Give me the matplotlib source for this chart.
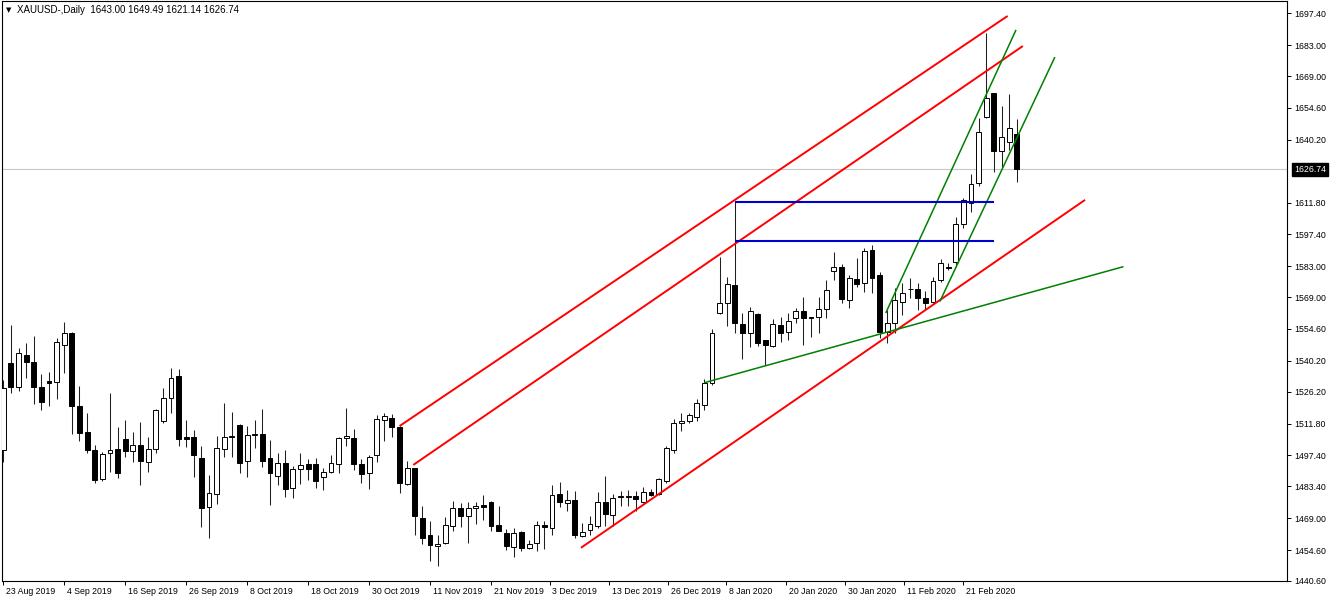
import matplotlib
matplotlib.use('Agg')
import matplotlib.pyplot as plt
import matplotlib.transforms as mtransforms

# ---------------- data ----------------
opens = [1499.9, 1539.1, 1528.5, 1542.8, 1539.8, 1528.5, 1531.0, 1530.5, 1547.4, 1552.9,
         1519.8, 1508.2, 1499.9, 1486.7, 1498.4, 1500.2, 1504.9, 1499.6, 1502.2, 1494.3,
         1500.2, 1513.1, 1523.3, 1533.3, 1505.6, 1505.6, 1496.1, 1474.1, 1479.9, 1500.2,
         1505.7, 1511.2, 1494.7, 1506.8, 1507.1, 1496.1, 1488.2, 1493.9, 1482.8, 1491.4,
         1493.4, 1493.4, 1487.7, 1489.8, 1493.4, 1505.2, 1505.2, 1493.4, 1489.4, 1497.4,
         1513.6, 1514.2, 1510.4, 1484.4, 1491.9, 1469.2, 1461.2, 1456.3, 1457.8, 1465.6,
         1473.5, 1470.2, 1473.6, 1475.0, 1476.2, 1465.9, 1462.2, 1456.0, 1462.7, 1455.6,
         1457.8, 1466.1, 1464.6, 1480.0, 1475.9, 1477.4, 1461.0, 1463.7, 1465.6, 1476.4,
         1470.3, 1478.4, 1478.6, 1479.0, 1476.4, 1480.9, 1480.1, 1485.7, 1499.7, 1512.2,
         1512.8, 1515.0, 1520.0, 1530.0, 1562.0, 1566.2, 1574.5, 1556.7, 1552.9, 1561.2,
         1549.6, 1546.9, 1556.4, 1553.4, 1559.7, 1562.7, 1560.2, 1560.0, 1563.7, 1581.0,
         1582.8, 1567.7, 1577.1, 1575.3, 1590.3, 1579.0, 1553.4, 1557.2, 1567.0, 1572.7,
         1572.5, 1568.5, 1567.0, 1576.8, 1582.6, 1584.8, 1602.1, 1611.5, 1620.5, 1650.4,
         1661.2, 1635.2, 1639.3, 1643.00]
highs = [1531.5, 1556.4, 1545.9, 1548.1, 1551.4, 1534.1, 1535.0, 1550.4, 1557.6, 1553.4,
         1528.8, 1516.5, 1502.2, 1499.1, 1525.5, 1510.2, 1513.5, 1508.2, 1512.4, 1505.6,
         1518.4, 1527.8, 1536.8, 1536.4, 1513.5, 1508.9, 1501.7, 1488.6, 1506.2, 1521.0,
         1516.9, 1511.5, 1510.9, 1513.5, 1518.3, 1504.4, 1498.4, 1499.9, 1492.6, 1498.4,
         1495.7, 1496.1, 1491.5, 1497.6, 1505.9, 1519.0, 1509.3, 1495.7, 1497.6, 1515.7,
         1516.8, 1516.2, 1510.7, 1494.9, 1491.9, 1474.4, 1467.9, 1461.6, 1469.5, 1476.9,
         1475.8, 1476.3, 1476.5, 1479.6, 1476.6, 1474.4, 1464.2, 1464.5, 1463.4, 1459.2,
         1467.9, 1467.9, 1483.9, 1485.5, 1481.8, 1481.5, 1466.7, 1470.2, 1480.9, 1488.1,
         1480.0, 1481.5, 1481.8, 1481.1, 1483.0, 1482.1, 1487.2, 1501.7, 1513.8, 1516.5,
         1516.8, 1523.0, 1532.0, 1554.5, 1587.3, 1578.0, 1612.2, 1562.0, 1564.4, 1561.7,
         1549.6, 1559.0, 1559.9, 1562.0, 1564.0, 1569.2, 1560.2, 1569.0, 1576.8, 1589.3,
         1584.0, 1579.0, 1586.6, 1591.1, 1592.6, 1580.5, 1563.2, 1573.0, 1575.3, 1577.5,
         1575.3, 1571.9, 1578.2, 1586.1, 1584.3, 1605.4, 1613.7, 1624.7, 1649.9, 1688.4,
         1661.5, 1655.5, 1660.9, 1649.49]
lows = [1494.6, 1525.8, 1526.6, 1532.6, 1520.6, 1518.0, 1519.9, 1522.8, 1534.6, 1507.1,
        1503.9, 1498.7, 1485.1, 1486.0, 1490.1, 1487.1, 1496.9, 1494.3, 1484.0, 1489.7,
        1498.7, 1512.0, 1516.8, 1501.7, 1501.1, 1487.8, 1465.2, 1460.1, 1475.5, 1496.9,
        1496.9, 1489.4, 1487.8, 1500.6, 1492.1, 1474.9, 1483.9, 1478.5, 1478.0, 1484.7,
        1486.5, 1482.6, 1481.8, 1489.4, 1489.4, 1501.7, 1490.9, 1484.8, 1482.3, 1494.6,
        1504.1, 1505.6, 1480.6, 1483.9, 1461.6, 1457.5, 1449.6, 1447.2, 1457.5, 1463.4,
        1464.9, 1457.8, 1466.2, 1468.0, 1463.1, 1463.1, 1454.7, 1451.4, 1454.2, 1454.9,
        1454.2, 1455.0, 1461.2, 1473.9, 1472.1, 1460.1, 1460.4, 1461.6, 1464.6, 1465.6,
        1465.6, 1474.4, 1474.4, 1472.1, 1475.9, 1479.1, 1479.7, 1484.9, 1498.7, 1508.3,
        1512.0, 1513.0, 1518.0, 1529.3, 1561.4, 1556.0, 1553.0, 1540.9, 1546.3, 1546.9,
        1538.3, 1546.6, 1548.8, 1549.6, 1557.2, 1547.3, 1550.8, 1552.6, 1559.4, 1576.8,
        1566.2, 1564.0, 1573.7, 1571.5, 1570.8, 1550.4, 1548.4, 1552.6, 1560.9, 1568.5,
        1563.2, 1563.2, 1566.2, 1576.0, 1581.3, 1582.8, 1600.1, 1607.7, 1619.3, 1649.9,
        1625.7, 1627.3, 1635.6, 1621.14]
closes = [1527.8, 1528.2, 1543.6, 1539.8, 1528.2, 1521.5, 1530.3, 1548.6, 1552.9, 1519.8,
          1507.7, 1499.9, 1486.3, 1498.1, 1499.9, 1489.4, 1499.6, 1502.2, 1495.1, 1500.2,
          1518.0, 1523.3, 1532.3, 1504.7, 1505.0, 1497.6, 1473.5, 1480.3, 1500.9, 1505.9,
          1506.0, 1494.2, 1506.7, 1507.3, 1494.7, 1489.6, 1493.9, 1482.3, 1491.4, 1492.9,
          1491.4, 1485.9, 1490.0, 1493.9, 1505.2, 1506.0, 1493.6, 1489.2, 1496.6, 1513.8,
          1515.3, 1510.4, 1484.8, 1491.6, 1470.0, 1460.1, 1456.8, 1457.5, 1465.9, 1473.6,
          1470.2, 1473.6, 1474.7, 1474.0, 1465.7, 1463.4, 1456.3, 1462.5, 1455.6, 1457.4,
          1466.1, 1464.9, 1479.4, 1476.3, 1477.4, 1461.2, 1462.8, 1466.3, 1476.4, 1471.1,
          1478.2, 1479.0, 1479.0, 1477.9, 1480.9, 1479.7, 1486.8, 1500.6, 1512.0, 1512.8,
          1515.9, 1521.0, 1530.0, 1552.9, 1566.2, 1574.9, 1557.2, 1552.9, 1562.9, 1548.1,
          1547.3, 1556.9, 1552.9, 1558.2, 1562.7, 1559.7, 1559.7, 1563.6, 1572.3, 1582.8,
          1568.1, 1577.5, 1575.0, 1589.9, 1577.5, 1553.4, 1557.2, 1567.7, 1571.0, 1572.9,
          1568.5, 1566.5, 1576.4, 1584.3, 1582.2, 1602.0, 1612.9, 1620.1, 1643.8, 1659.2,
          1635.2, 1641.3, 1645.4, 1626.74]

date_labels = ['23 Aug 2019', '4 Sep 2019', '16 Sep 2019', '26 Sep 2019', '8 Oct 2019',
               '18 Oct 2019', '30 Oct 2019', '11 Nov 2019', '21 Nov 2019', '3 Dec 2019',
               '13 Dec 2019', '26 Dec 2019', '8 Jan 2020', '20 Jan 2020', '30 Jan 2020',
               '11 Feb 2020', '21 Feb 2020']
date_bar = [0, 8, 16, 24, 32, 40, 48, 56, 64, 71.7, 79.5, 87.2, 94.9, 102.7, 110.5, 118.2, 126.0]

price_ticks = [1697.40, 1683.00, 1669.00, 1654.60, 1640.20, 1611.80, 1597.40, 1583.00,
               1569.00, 1554.60, 1540.20, 1526.20, 1511.80, 1497.40, 1483.40, 1469.00,
               1454.60, 1440.60]
last_price = 1626.74
header = "XAUUSD-,Daily  1643.00 1649.49 1621.14 1626.74"

# trend objects: (bar, price) -> (bar, price)
red_lines = [((52.0, 1510.7), (131.8, 1696.2)),
             ((53.8, 1493.1), (133.8, 1682.6)),
             ((75.8, 1455.6), (141.96, 1613.0))]
green_lines = [((92.0, 1530.3), (147.0, 1582.8)),
               ((115.8, 1561.8), (132.9, 1689.9)),
               ((122.9, 1567.0), (138.0, 1677.6))]
blue_levels = [1612.1, 1594.5]
blue_span = (96.0, 130.0)

# ---------------- figure ----------------
W, H = 1332, 601
fig = plt.figure(figsize=(W / 100, H / 100), dpi=100)
fig.patch.set_facecolor('white')
ax_left, ax_right, ax_top, ax_bottom = 2, 1287.3, 1, 581
ax = fig.add_axes([ax_left / W, (H - ax_bottom) / H,
                   (ax_right - ax_left) / W, (ax_bottom - ax_top) / H])
ax.set_facecolor('white')
ax.set_xlim(-0.17, 168.5)
ax.set_ylim(1440.6, 1702.96)

FONT = ['Liberation Sans', 'DejaVu Sans']
fs = 6.3

# current price line
ax.axhline(last_price, color='#c8c8c8', lw=0.8, zorder=1)

# candles
n = len(opens)
xs = list(range(n))
for i in xs:
    ax.vlines(i, lows[i], highs[i], color='#202020', lw=0.75, zorder=2)
for i in xs:
    o, c = opens[i], closes[i]
    bull = c >= o
    ax.bar(i, abs(c - o), bottom=min(o, c), width=0.64,
           color='white' if bull else 'black', edgecolor='black', lw=0.7, zorder=3)

# trend lines
for (x0, y0), (x1, y1) in red_lines:
    ax.plot([x0, x1], [y0, y1], color='#ff0000', lw=1.4, zorder=4, solid_capstyle='butt')
for (x0, y0), (x1, y1) in green_lines:
    ax.plot([x0, x1], [y0, y1], color='#008000', lw=1.1, zorder=4, solid_capstyle='butt')
for lvl in blue_levels:
    ax.plot(list(blue_span), [lvl, lvl], color='#0000cd', lw=1.5, zorder=4, solid_capstyle='butt')

# axes styling
for s in ax.spines.values():
    s.set_color('black')
    s.set_linewidth(0.8)

ax.yaxis.tick_right()
ax.set_yticks(price_ticks)
ax.set_yticklabels([f"{p:.2f}" for p in price_ticks], fontsize=fs, family=FONT)
ax.tick_params(axis='y', direction='out', length=3, width=0.7, pad=2, colors='black')

ax.set_xticks(date_bar)
ax.set_xticklabels(date_labels, fontsize=fs, family=FONT)
ax.tick_params(axis='x', direction='out', length=3, width=0.7, pad=1, colors='black')
offset = mtransforms.ScaledTranslation(2 / 72, 0, fig.dpi_scale_trans)
for lab in ax.get_xticklabels():
    lab.set_ha('left')
    lab.set_transform(lab.get_transform() + offset)

# last price box
trans = mtransforms.blended_transform_factory(ax.transAxes, ax.transData)
ax.text(1.0, last_price, f"{last_price:.2f}", transform=trans + mtransforms.ScaledTranslation(5 / 72, 0, fig.dpi_scale_trans),
        ha='left', va='center', color='white', fontsize=fs, family=FONT,
        bbox=dict(facecolor='black', edgecolor='black', boxstyle='square,pad=0.25'),
        clip_on=False, zorder=10)

# header
fig.text(6 / W, 1 - 10 / H, "\u25BC", fontsize=5, family=['DejaVu Sans'], va='center', ha='left')
fig.text(17 / W, 1 - 10 / H, header, fontsize=7, family=FONT, va='center', ha='left')

fig.savefig('out.png', dpi=100)
